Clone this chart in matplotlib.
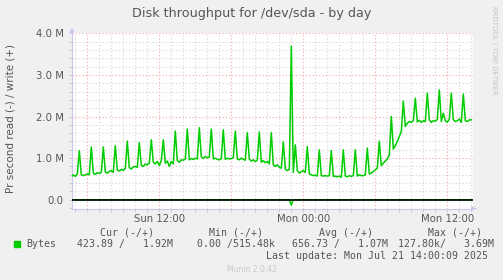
import numpy as np
import matplotlib
matplotlib.use('Agg')
import matplotlib.pyplot as plt
from matplotlib.ticker import MultipleLocator, FixedLocator

# samples every 10 minutes, time in hours counted from Sun 00:00
start_hour = 4 + 40 / 60
step_hours = 10 / 60

# write throughput in MB/s, one row per hour (:00 :10 :20 :30 :40 :50)
write_mb = [
    0.55, 0.60,                               # Sun 04:40
    0.56, 0.62, 1.18, 0.60, 0.58, 0.60,       # Sun 05
    0.62, 0.60, 1.27, 0.64, 0.61, 0.65,       # Sun 06
    0.63, 0.66, 1.27, 0.67, 0.64, 0.68,       # Sun 07
    0.70, 0.66, 1.30, 0.72, 0.69, 0.73,       # Sun 08
    0.71, 0.75, 1.41, 0.77, 0.74, 0.79,       # Sun 09
    0.80, 0.78, 1.37, 0.83, 0.80, 0.86,       # Sun 10
    0.84, 0.88, 1.44, 0.90, 0.86, 0.92,       # Sun 11
    0.82, 0.94, 1.44, 0.88, 0.93, 0.80,       # Sun 12
    0.92, 0.86, 1.65, 0.94, 0.90, 0.96,       # Sun 13
    0.95, 0.98, 1.70, 0.96, 0.99, 0.97,       # Sun 14
    1.00, 0.98, 1.73, 1.03, 0.99, 1.04,       # Sun 15
    1.01, 1.03, 1.70, 0.98, 1.00, 0.97,       # Sun 16
    0.96, 0.99, 1.68, 0.97, 1.00, 0.98,       # Sun 17
    0.99, 1.01, 1.65, 0.98, 0.96, 1.00,       # Sun 18
    0.97, 0.95, 1.61, 0.98, 0.93, 0.96,       # Sun 19
    0.92, 0.95, 1.63, 0.90, 0.94, 0.89,       # Sun 20
    0.92, 0.86, 1.61, 0.84, 0.80, 0.84,       # Sun 21
    0.78, 0.76, 1.39, 0.74, 0.70, 0.73,       # Sun 22
    3.69, 0.66, 1.32, 0.70, 0.64, 0.68,       # Sun 23
    0.70, 0.66, 1.28, 0.62, 0.60, 0.58,       # Mon 00
    0.59, 0.57, 1.20, 0.58, 0.57, 0.58,       # Mon 01
    0.57, 0.58, 1.18, 0.56, 0.57, 0.55,       # Mon 02
    0.57, 0.54, 1.20, 0.57, 0.55, 0.58,       # Mon 03
    0.56, 0.58, 1.20, 0.57, 0.60, 0.58,       # Mon 04
    0.58, 0.60, 1.24, 0.62, 0.64, 0.68,       # Mon 05
    0.72, 0.76, 1.41, 0.82, 0.88, 0.93,       # Mon 06
    0.98, 1.08, 2.00, 1.22, 1.30, 1.40,       # Mon 07
    1.52, 1.64, 2.37, 1.76, 1.84, 1.88,       # Mon 08
    1.86, 1.90, 2.44, 1.87, 1.91, 1.86,       # Mon 09
    1.90, 1.88, 2.56, 1.92, 1.86, 1.90,       # Mon 10
    1.89, 1.93, 2.64, 1.88, 2.08, 1.90,       # Mon 11
    1.86, 1.94, 2.56, 1.92, 1.88, 1.90,       # Mon 12
    1.94, 1.86, 2.54, 1.90, 1.88, 1.92,       # Mon 13
    1.92,                                     # Mon 14:00
]

# reads are ~0 except one burst at Sun 23:00 (drawn below zero)
read_peak_hour = 23.0
read_peak_mb = 0.128

tick_hours = [12, 24, 36]
tick_labels = ['Sun 12:00', 'Mon 00:00', 'Mon 12:00']
y_ticks = [0, 1, 2, 3, 4]
y_labels = ['0.0', '1.0 M', '2.0 M', '3.0 M', '4.0 M']

legend_header = ['Cur (-/+)', 'Min (-/+)', 'Avg (-/+)', 'Max (-/+)']
legend_values = ['423.89 /   1.92M', '0.00 /515.48k', '656.73 /   1.07M', '127.80k/   3.69M']

GREEN = '#00cc00'
TEXT = '#555555'
BG = '#f0f0f0'

times = start_hour + np.arange(len(write_mb)) * step_hours
write = np.array(write_mb)
read = np.zeros(len(write_mb))
read[int(round((read_peak_hour - start_hour) / step_hours))] = read_peak_mb

fig = plt.figure(figsize=(5.03, 2.80), dpi=100, facecolor=BG)
ax = fig.add_axes([72 / 503, 1 - 208.5 / 280, 401 / 503, 175.2 / 280])
ax.set_facecolor('white')

ax.set_xlim(4.725, 38.14)
ax.set_ylim(-0.21, 4.0)

# grid
for h in np.arange(5, 39):
    col, ls = ('#f0a8a8', (0, (1, 2))) if h % 6 == 0 else ('#d4d4d4', (0, (1, 2)))
    ax.axvline(h, color=col, lw=0.8, ls=ls, zorder=1)
for v in np.arange(1, 21) * 0.2:
    major = abs(v - round(v)) < 1e-6
    col = '#f0a8a8' if major else '#d4d4d4'
    ax.axhline(v, color=col, lw=0.8, ls=(0, (1, 2)), zorder=1)

ax.plot(times, write, color=GREEN, lw=1.1, zorder=3)
ax.plot(times, -read, color=GREEN, lw=1.1, zorder=3)
ax.axhline(0, color='black', lw=1.2, zorder=4)

for s in ['top', 'right']:
    ax.spines[s].set_visible(False)
for s in ['left', 'bottom']:
    ax.spines[s].set_color('#c8c8ec')
    ax.spines[s].set_linewidth(0.8)

ax.xaxis.set_major_locator(FixedLocator(tick_hours))
ax.set_xticklabels(tick_labels)
ax.xaxis.set_minor_locator(MultipleLocator(1))
ax.yaxis.set_major_locator(FixedLocator(y_ticks))
ax.set_yticklabels(y_labels)
ax.yaxis.set_minor_locator(MultipleLocator(0.2))
ax.tick_params(which='both', colors='#c8c8ec', length=2, width=0.7,
               labelcolor=TEXT, labelsize=7.3)
ax.tick_params(axis='x', which='major', pad=2)
ax.tick_params(axis='y', which='major', pad=4)

# axis arrows
ax.annotate('', xy=(72 / 503, 1 - 25 / 280), xytext=(72 / 503, 1 - 33 / 280),
            xycoords='figure fraction',
            arrowprops=dict(arrowstyle='-|>', color='#c8c8ec', lw=0.8, mutation_scale=6))
ax.annotate('', xy=(479 / 503, 1 - 208.5 / 280), xytext=(473 / 503, 1 - 208.5 / 280),
            xycoords='figure fraction',
            arrowprops=dict(arrowstyle='-|>', color='#c8c8ec', lw=0.8, mutation_scale=6))

fig.text(251.5 / 503, 1 - 14 / 280, 'Disk throughput for /dev/sda - by day',
         ha='center', va='center', color=TEXT, fontsize=9.2)
fig.text(11 / 503, 1 - 118 / 280, 'Pr second read (-) / write (+)',
         rotation=90, ha='center', va='center', color=TEXT, fontsize=7.5)
fig.text(494 / 503, 1 - 6 / 280, 'RRDTOOL / TOBI OETIKER', rotation=270,
         ha='center', va='top', color='#c4c4c4', fontsize=5)

mono = dict(family='DejaVu Sans Mono', fontsize=7.1, color=TEXT, va='center')
head_x = [100, 209, 319, 428]
val_x = [76.7, 196.7, 291.7, 398.3]
for x, s in zip(head_x, legend_header):
    fig.text(x / 503, 1 - 232.7 / 280, s, ha='left', **mono)
for x, s in zip(val_x, legend_values):
    fig.text(x / 503, 1 - 244.3 / 280, s, ha='left', **mono)
fig.patches.append(plt.Rectangle((14 / 503, 1 - 247 / 280), 6 / 503, 6 / 280,
                                 transform=fig.transFigure, color=GREEN))
fig.text(26.7 / 503, 1 - 244.3 / 280, 'Bytes', ha='left', **mono)
fig.text(488.3 / 503, 1 - 255.7 / 280, 'Last update: Mon Jul 21 14:00:09 2025',
         ha='right', **mono)
fig.text(251.7 / 503, 1 - 269.3 / 280, 'Munin 2.0.42', ha='center', va='center',
         color='#c8c8c8', fontsize=5.5)

fig.savefig('out.png', dpi=100, facecolor=BG)
